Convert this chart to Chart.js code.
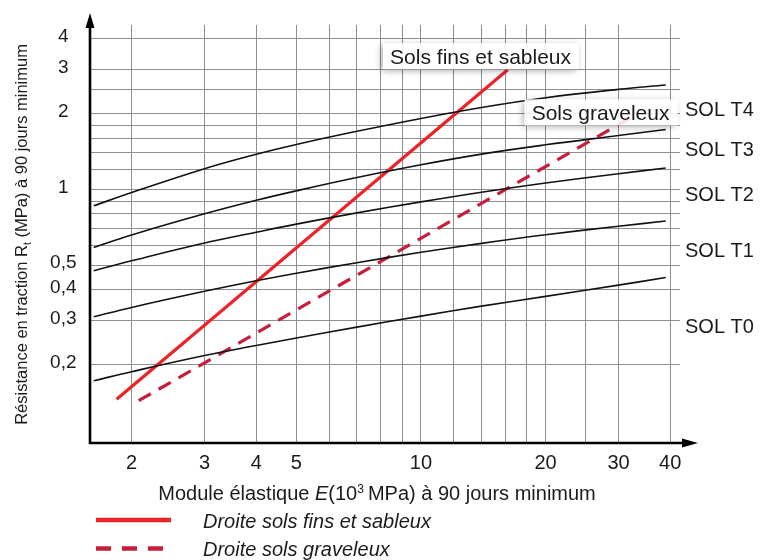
<!DOCTYPE html>
<html lang="fr">
<head>
<meta charset="utf-8">
<script src="https://cdn.jsdelivr.net/npm/chart.js@4/dist/chart.umd.min.js"></script>
<style>
  html, body { margin: 0; padding: 0; background: #fff; }
  canvas { display: block; }
</style>
</head>
<body>
<canvas id="abaque" width="762" height="560"></canvas>
<script>
// Module élastique E (10^3 MPa) at which each soil-class curve is sampled
const moduleE = [1.62, 2, 3, 4, 5, 7, 10, 14, 20, 30, 39];

// Tensile strength Rt (MPa) for each soil class, one value per moduleE entry
const solT0 = [0.173, 0.188, 0.218, 0.239, 0.256, 0.283, 0.313, 0.343, 0.375, 0.416, 0.446];
const solT1 = [0.311, 0.339, 0.393, 0.433, 0.464, 0.511, 0.562, 0.610, 0.660, 0.714, 0.749];
const solT2 = [0.475, 0.520, 0.612, 0.676, 0.728, 0.807, 0.893, 0.976, 1.062, 1.156, 1.218];
const solT3 = [0.588, 0.659, 0.800, 0.906, 0.988, 1.116, 1.255, 1.384, 1.507, 1.641, 1.734];
const solT4 = [0.861, 0.973, 1.211, 1.382, 1.512, 1.706, 1.920, 2.123, 2.322, 2.507, 2.608];
const solNames = ['SOL T0', 'SOL T1', 'SOL T2', 'SOL T3', 'SOL T4'];
// Rt level where each class name is written, in the band of its class
const solNameRt = [0.2835, 0.572, 0.955, 1.44, 2.08];

// Straight lines (log-log) for the two soil families
const finsE = [1.84, 16.2];
const finsRt = [0.146, 3.0];
const gravE = [2.08, 32];
const gravRt = [0.144, 1.93];

// Grid and tick values
const xGrid = [2, 3, 4, 5, 6, 7, 8, 9, 10, 12, 14, 16, 18, 20, 25, 30, 40];
const xLabelled = [2, 3, 4, 5, 10, 20, 30, 40];
const yGrid = [0.2, 0.3, 0.4, 0.5, 0.6, 0.7, 0.8, 0.9, 1, 1.2, 1.4, 1.6, 1.8, 2, 2.5, 3, 4];
const yLabelled = [0.2, 0.3, 0.4, 0.5, 1, 2, 3, 4];

// Boxed captions near the two straight lines: [text, E, Rt]
const captions = [
  ['Sols fins et sableux', 8.1, 3.40],
  ['Sols graveleux', 17.8, 2.03]
];

const FONT = '"Liberation Sans", Arial, Helvetica, sans-serif';
const INK = '#1b1b1b';
const GRID = 'rgb(140,142,150)';

const pairs = (xs, ys) => xs.map((v, i) => ({ x: v, y: ys[i] }));
const has = (list, v) => list.some(t => Math.abs(t - v) < 1e-9);
const frNum = v => String(v).replace('.', ',');

const solStyle = {
  borderColor: '#121212', borderWidth: 1.6, pointRadius: 0,
  tension: 0.4, fill: false
};
const solSeries = [solT0, solT1, solT2, solT3, solT4];

const datasets = solSeries.map((vals, i) => Object.assign({
  label: solNames[i], data: pairs(moduleE, vals), sol: true
}, solStyle));

datasets.push({
  label: 'Droite sols fins et sableux', data: pairs(finsE, finsRt),
  borderColor: '#ec2328', borderWidth: 3.2, pointRadius: 0, fill: false,
  legendDash: []
});
datasets.push({
  label: 'Droite sols graveleux', data: pairs(gravE, gravRt),
  borderColor: '#c71f3b', borderWidth: 3.2, pointRadius: 0, fill: false,
  borderDash: [14, 9], legendDash: [15, 11]
});

function drawRich(ctx, parts, x0, yBase) {
  let xx = x0;
  parts.forEach(p => {
    ctx.font = p.f;
    ctx.fillText(p.t, xx, yBase + (p.dy || 0));
    xx += ctx.measureText(p.t).width;
  });
}
function richWidth(ctx, parts) {
  return parts.reduce((s, p) => { ctx.font = p.f; return s + ctx.measureText(p.t).width; }, 0);
}

const decor = {
  id: 'decor',
  afterDatasetsDraw(chart) {
    const { ctx, scales: { x, y } } = chart;
    ctx.save();
    // caption boxes over the grid
    captions.forEach(([text, e, rt]) => {
      ctx.font = '21px ' + FONT;
      const w = ctx.measureText(text).width + 15;
      const h = 26;
      const left = x.getPixelForValue(e);
      const top = y.getPixelForValue(rt) - h / 2;
      ctx.save();
      ctx.beginPath();
      ctx.rect(0, 0, chart.width, chart.height);
      ctx.rect(left, top, w, h);
      ctx.clip('evenodd');
      ctx.shadowColor = 'rgba(0,0,0,0.35)';
      ctx.shadowBlur = 7;
      ctx.shadowOffsetX = -2;
      ctx.shadowOffsetY = 2;
      ctx.fillStyle = '#fff';
      ctx.fillRect(left, top, w, h);
      ctx.restore();
      ctx.fillStyle = 'rgba(255,255,255,0.86)';
      ctx.fillRect(left, top, w, h);
      ctx.fillStyle = INK;
      ctx.textAlign = 'left';
      ctx.textBaseline = 'alphabetic';
      ctx.fillText(text, left + 7, top + 20.5);
    });
    ctx.restore();
  },
  afterDraw(chart) {
    const { ctx, chartArea: ca, scales: { y } } = chart;
    ctx.save();
    // axes with arrow heads
    ctx.strokeStyle = '#000';
    ctx.fillStyle = '#000';
    ctx.lineWidth = 2.6;
    ctx.beginPath();
    ctx.moveTo(ca.left, ca.bottom + 1.3);
    ctx.lineTo(ca.left, ca.top - 2);
    ctx.moveTo(ca.left - 1.3, ca.bottom);
    ctx.lineTo(ca.right + 3, ca.bottom);
    ctx.stroke();
    ctx.beginPath();
    ctx.moveTo(ca.left, ca.top - 12);
    ctx.lineTo(ca.left - 4.5, ca.top + 3);
    ctx.lineTo(ca.left + 4.5, ca.top + 3);
    ctx.closePath();
    ctx.fill();
    ctx.beginPath();
    ctx.moveTo(ca.right + 18, ca.bottom);
    ctx.lineTo(ca.right + 2, ca.bottom - 4.5);
    ctx.lineTo(ca.right + 2, ca.bottom + 4.5);
    ctx.closePath();
    ctx.fill();

    // soil class names on the right
    ctx.fillStyle = INK;
    ctx.font = '20px ' + FONT;
    ctx.textAlign = 'left';
    ctx.textBaseline = 'middle';
    solNames.forEach((n, i) => ctx.fillText(n, ca.right + 5, y.getPixelForValue(solNameRt[i]) + 1));

    // x axis title
    ctx.textBaseline = 'alphabetic';
    const xt = [
      { t: 'Module élastique ', f: '20px ' + FONT },
      { t: 'E', f: 'italic 20px ' + FONT },
      { t: '(10', f: '20px ' + FONT },
      { t: '3', f: '12px ' + FONT, dy: -7 },
      { t: '\u2009MPa) à 90 jours minimum', f: '20px ' + FONT }
    ];
    const xw = richWidth(ctx, xt);
    drawRich(ctx, xt, (ca.left + ca.right) / 2 - 8 - xw / 2, ca.bottom + 57);

    // y axis title, rotated
    const yt = [
      { t: 'Résistance en traction R', f: '16.5px ' + FONT },
      { t: 't', f: '10.5px ' + FONT, dy: 4 },
      { t: ' (MPa) à 90 jours minimum', f: '16.5px ' + FONT }
    ];
    const yw = richWidth(ctx, yt);
    ctx.save();
    ctx.translate(26.5, (ca.top + ca.bottom) / 2 + 0.5);
    ctx.rotate(-Math.PI / 2);
    drawRich(ctx, yt, -yw / 2, 0);
    ctx.restore();

    // legend of the two straight lines
    const lines = chart.data.datasets.filter(d => !d.sol);
    lines.forEach((d, i) => {
      const ly = ca.bottom + 77 + i * 28.5;
      ctx.strokeStyle = d.borderColor;
      ctx.lineWidth = 4.5;
      ctx.setLineDash(d.legendDash);
      ctx.beginPath();
      ctx.moveTo(ca.left + 6, ly);
      ctx.lineTo(ca.left + 81, ly);
      ctx.stroke();
      ctx.setLineDash([]);
      ctx.fillStyle = INK;
      ctx.font = 'italic 20px ' + FONT;
      ctx.textBaseline = 'middle';
      ctx.fillText(d.label, ca.left + 113, ly + 2);
    });
    ctx.restore();
  }
};

new Chart(document.getElementById('abaque'), {
  type: 'line',
  data: { datasets },
  plugins: [decor],
  options: {
    responsive: false,
    devicePixelRatio: 1,
    animation: false,
    layout: { padding: { left: 0, right: 82, top: 24, bottom: 0 } },
    plugins: { legend: { display: false }, tooltip: { enabled: false } },
    scales: {
      x: {
        type: 'logarithmic',
        min: 1.5867, max: 42.23,
        afterBuildTicks: s => { s.ticks = xGrid.map(v => ({ value: v })); },
        afterFit: s => { s.height = 117; },
        grid: { color: GRID, lineWidth: 1, drawTicks: false },
        border: { display: false },
        ticks: {
          autoSkip: false, maxRotation: 0, minRotation: 0, padding: 8,
          color: INK, font: { family: FONT, size: 20 },
          callback: v => has(xLabelled, v) ? frNum(v) : ''
        }
      },
      y: {
        type: 'logarithmic',
        min: 0.0977, max: 4.529,
        afterBuildTicks: s => { s.ticks = yGrid.map(v => ({ value: v })); },
        afterFit: s => { s.width = 90; },
        grid: { color: GRID, lineWidth: 1, drawTicks: false },
        border: { display: false },
        ticks: {
          autoSkip: false, padding: 13.5, crossAlign: 'center', labelOffset: -2,
          color: INK, font: { family: FONT, size: 19 },
          callback: v => has(yLabelled, v) ? frNum(v) : ''
        }
      }
    }
  }
});
</script>
</body>
</html>
